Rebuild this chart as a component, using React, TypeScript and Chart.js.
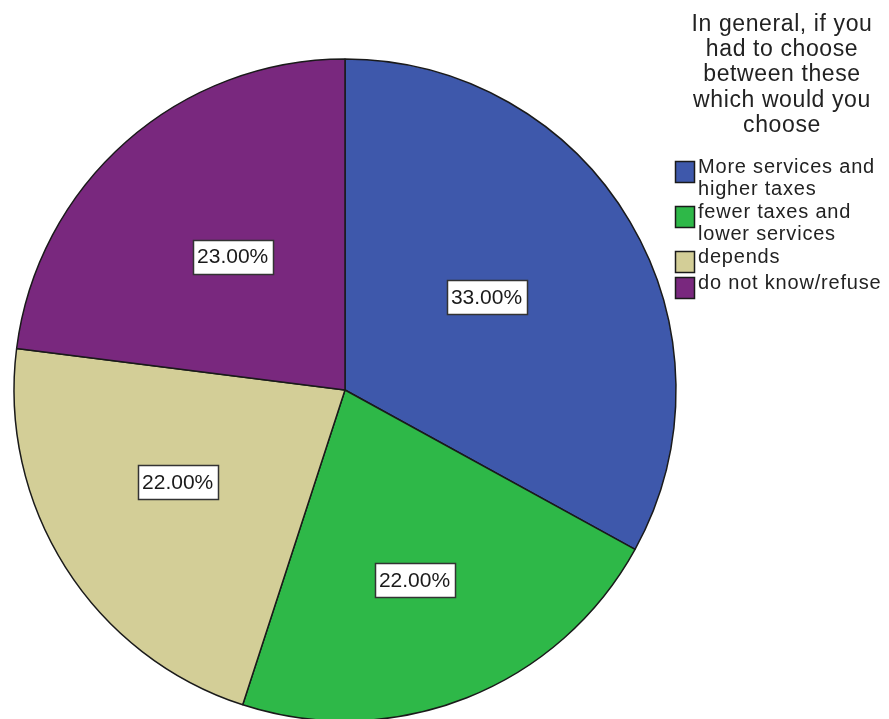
import React, { useEffect, useRef } from "react";
import { Chart, registerables } from "chart.js";

Chart.register(...registerables);

// ---- data ----
const categories: string[][] = [
  ["More services and", "higher taxes"],
  ["fewer taxes and", "lower services"],
  ["depends"],
  ["do not know/refuse"],
];
const percentages: number[] = [33, 22, 22, 23];
const legendTitle: string[] = [
  "In general, if you",
  "had to choose",
  "between these",
  "which would you",
  "choose",
];

// ---- styles ----
const sliceColors = ["#3e58ab", "#2eb848", "#d3ce97", "#79287e"];
const labelRadiusFrac = [0.511, 0.611, 0.577, 0.527];
const labelAngleShiftDeg = [-2.6, 1.5, 3.6, 1.3];
const FONT = "'Liberation Sans', Arial, sans-serif";

const W = 889;
const H = 719;

const sliceLabelPlugin = {
  id: "sliceLabels",
  afterDatasetsDraw(chart: any) {
    const ctx = chart.ctx;
    const meta = chart.getDatasetMeta(0);
    const vals = chart.data.datasets[0].data as number[];
    ctx.save();
    ctx.font = `21px ${FONT}`;
    ctx.textAlign = "center";
    ctx.textBaseline = "middle";
    meta.data.forEach((arc: any, i: number) => {
      const p = arc.getProps(["x", "y", "startAngle", "endAngle", "outerRadius"], true);
      const mid = (p.startAngle + p.endAngle) / 2 + (labelAngleShiftDeg[i] * Math.PI) / 180;
      const r = p.outerRadius * labelRadiusFrac[i];
      const cx = p.x + Math.cos(mid) * r;
      const cy = p.y + Math.sin(mid) * r;
      const text = `${Number(vals[i]).toFixed(2)}%`;
      const tw = ctx.measureText(text).width;
      const bw = Math.round(tw + 9);
      const bh = 34;
      const bx = Math.round(cx - bw / 2) + 0.5;
      const by = Math.round(cy - bh / 2) + 0.5;
      ctx.fillStyle = "#ffffff";
      ctx.fillRect(bx, by, bw, bh);
      ctx.strokeStyle = "#333333";
      ctx.lineWidth = 1.5;
      ctx.strokeRect(bx, by, bw, bh);
      ctx.fillStyle = "#1a1a1a";
      ctx.fillText(text, cx, cy + 1);
    });
    ctx.restore();
  },
};

const legendPlugin = {
  id: "customLegend",
  afterDraw(chart: any) {
    const ctx = chart.ctx;
    ctx.save();
    // title
    ctx.fillStyle = "#222222";
    ctx.font = `23px ${FONT}`;
    (ctx as any).letterSpacing = "0.6px";
    ctx.textAlign = "center";
    ctx.textBaseline = "alphabetic";
    const titleX = 782;
    legendTitle.forEach((line, i) => {
      ctx.fillText(line, titleX, 31 + i * 25.2);
    });
    // items
    ctx.font = `20px ${FONT}`;
    (ctx as any).letterSpacing = "0.8px";
    ctx.textAlign = "left";
    const boxX = 675;
    const textX = 698;
    const lineH = 21.5;
    let baseline = 173;
    const labels = chart.data.labels as string[][];
    labels.forEach((lines, i) => {
      const boxTop = baseline - 12;
      ctx.fillStyle = sliceColors[i];
      ctx.fillRect(boxX + 0.5, boxTop + 0.5, 19, 21);
      ctx.strokeStyle = "#1a1a1a";
      ctx.lineWidth = 1.5;
      ctx.strokeRect(boxX + 0.5, boxTop + 0.5, 19, 21);
      ctx.fillStyle = "#222222";
      lines.forEach((ln, j) => {
        ctx.fillText(ln, textX, baseline + j * lineH);
      });
      baseline += Math.max(lines.length * lineH + 2, 26);
    });
    ctx.restore();
  },
};

export default function App() {
  const canvasRef = useRef<HTMLCanvasElement | null>(null);

  useEffect(() => {
    if (!canvasRef.current) return;
    const chart = new Chart(canvasRef.current, {
      type: "pie",
      data: {
        labels: categories as any,
        datasets: [
          {
            data: percentages,
            backgroundColor: sliceColors,
            borderColor: "#1a1a1a",
            borderWidth: 1.5,
            clip: false as any,
          } as any,
        ],
      },
      options: {
        responsive: false,
        devicePixelRatio: 1,
        animation: false,
        radius: 331,
        layout: { padding: { left: 0, right: 199, top: 61, bottom: 0 } },
        plugins: {
          legend: { display: false },
          tooltip: { enabled: false },
          title: { display: false },
        },
      } as any,
      plugins: [sliceLabelPlugin, legendPlugin],
    });
    return () => chart.destroy();
  }, []);

  return (
    <div
      style={{
        position: "absolute",
        left: 0,
        top: 0,
        width: W,
        height: H,
        background: "#ffffff",
        overflow: "hidden",
      }}
    >
      <canvas ref={canvasRef} width={W} height={H} style={{ display: "block" }} />
    </div>
  );
}
